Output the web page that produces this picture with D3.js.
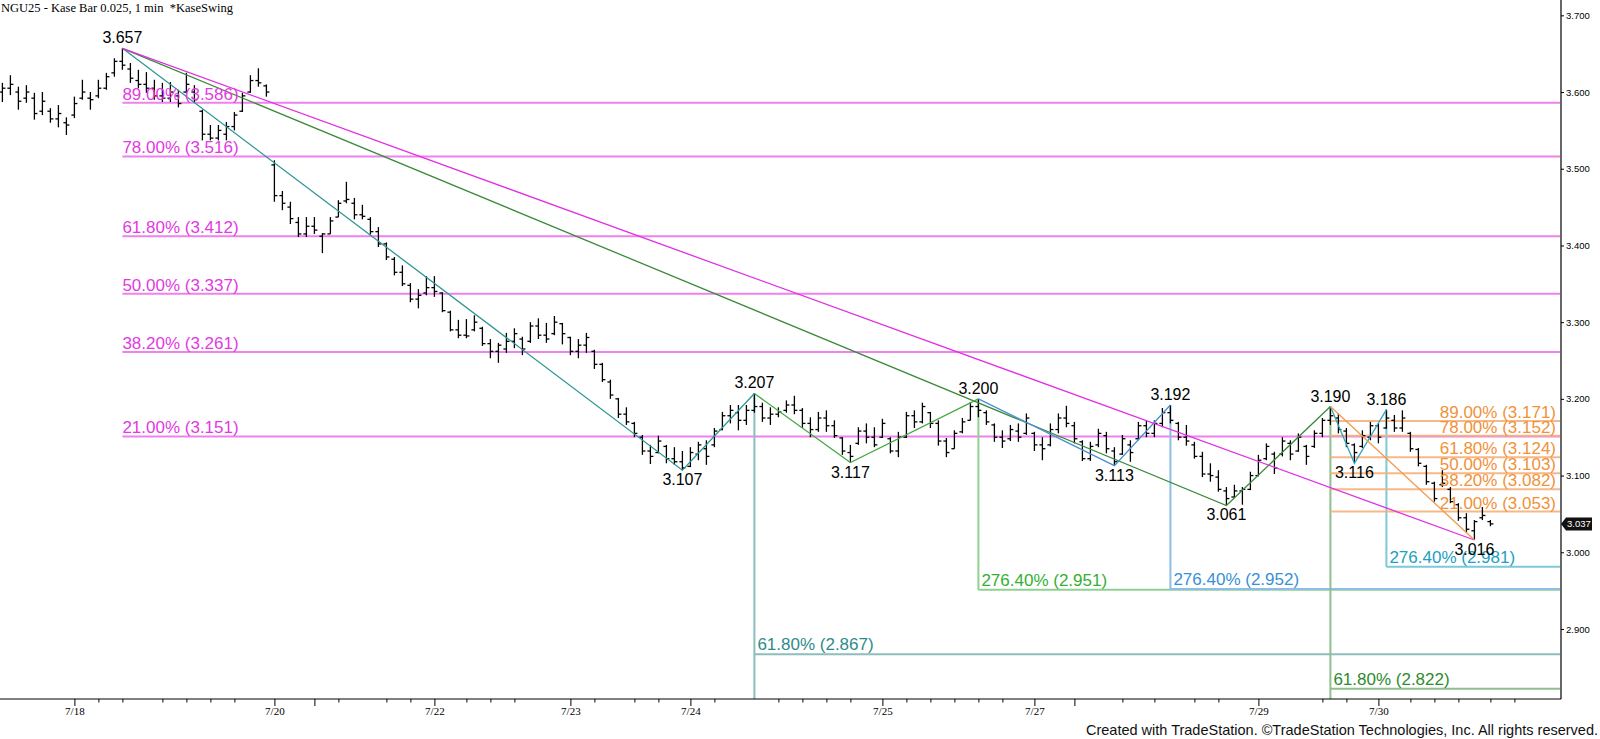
<!DOCTYPE html>
<html>
<head>
<meta charset="utf-8">
<script src="https://cdn.jsdelivr.net/npm/d3@7"></script>
<style>
  body { margin: 0; background: #fff; }
  svg { display: block; }
  .tick text { fill: #000; }
</style>
</head>
<body>
<svg id="chart" width="1600" height="739"></svg>
<script>
// ---- data (bar index = position on the x axis) ----
const highs = [3.612,3.622,3.607,3.609,3.599,3.600,3.579,3.583,3.567,3.594,3.616,3.600,3.616,3.625,3.644,3.657,3.638,3.629,3.626,3.616,
  3.612,3.613,3.603,3.625,3.609,3.577,3.557,3.557,3.561,3.574,3.599,3.622,3.631,3.610,3.511,3.471,3.457,3.437,3.437,3.437,
  3.416,3.437,3.459,3.483,3.462,3.453,3.437,3.424,3.404,3.385,3.374,3.351,3.343,3.360,3.360,3.339,3.315,3.303,3.304,3.309,
  3.294,3.278,3.273,3.286,3.292,3.281,3.300,3.305,3.299,3.308,3.299,3.281,3.278,3.286,3.264,3.247,3.225,3.201,3.189,3.170,
  3.153,3.140,3.152,3.140,3.137,3.132,3.137,3.144,3.146,3.162,3.183,3.192,3.192,3.192,3.207,3.195,3.189,3.189,3.198,3.204,
  3.188,3.176,3.183,3.185,3.172,3.150,3.140,3.163,3.168,3.163,3.174,3.150,3.157,3.183,3.185,3.195,3.183,3.172,3.149,3.159,
  3.175,3.196,3.200,3.185,3.168,3.159,3.166,3.168,3.181,3.157,3.150,3.168,3.181,3.191,3.170,3.146,3.144,3.161,3.157,3.137,
  3.153,3.146,3.170,3.172,3.172,3.188,3.192,3.170,3.166,3.144,3.131,3.116,3.107,3.085,3.088,3.085,3.105,3.127,3.142,3.131,
  3.150,3.146,3.155,3.140,3.159,3.175,3.190,3.181,3.162,3.142,3.159,3.170,3.168,3.186,3.179,3.185,3.157,3.136,3.114,3.092,
  3.107,3.085,3.064,3.051,3.042,3.059,3.042];
const lows = [3.587,3.596,3.577,3.586,3.564,3.570,3.560,3.554,3.544,3.566,3.590,3.577,3.592,3.603,3.620,3.629,3.612,3.605,3.599,3.590,
  3.587,3.587,3.580,3.599,3.586,3.537,3.537,3.537,3.537,3.550,3.574,3.599,3.607,3.594,3.457,3.446,3.428,3.411,3.411,3.415,
  3.390,3.415,3.437,3.455,3.434,3.434,3.414,3.398,3.381,3.361,3.347,3.326,3.318,3.335,3.333,3.313,3.288,3.279,3.279,3.288,
  3.269,3.253,3.247,3.260,3.266,3.257,3.273,3.278,3.273,3.283,3.271,3.257,3.253,3.260,3.239,3.222,3.200,3.175,3.166,3.150,
  3.127,3.115,3.129,3.116,3.114,3.107,3.111,3.120,3.114,3.137,3.159,3.168,3.159,3.166,3.182,3.170,3.166,3.176,3.182,3.180,
  3.162,3.150,3.157,3.157,3.149,3.127,3.117,3.140,3.142,3.137,3.149,3.129,3.124,3.149,3.162,3.168,3.162,3.139,3.124,3.135,
  3.155,3.172,3.176,3.166,3.144,3.136,3.145,3.144,3.153,3.132,3.120,3.138,3.155,3.163,3.142,3.119,3.119,3.137,3.129,3.113,
  3.127,3.118,3.146,3.150,3.150,3.163,3.168,3.146,3.139,3.122,3.098,3.092,3.079,3.061,3.072,3.062,3.081,3.099,3.120,3.102,
  3.125,3.120,3.131,3.114,3.136,3.150,3.166,3.155,3.137,3.116,3.136,3.146,3.142,3.161,3.157,3.157,3.131,3.112,3.088,3.066,
  3.085,3.064,3.041,3.026,3.016,3.042,3.034];
const opens = [3.600,3.605,3.600,3.592,3.592,3.575,3.575,3.565,3.560,3.570,3.592,3.592,3.595,3.605,3.625,3.640,3.630,3.615,3.610,3.605,
  3.595,3.592,3.595,3.600,3.600,3.575,3.545,3.540,3.545,3.555,3.575,3.600,3.615,3.608,3.505,3.465,3.450,3.430,3.415,3.425,
  3.412,3.415,3.437,3.458,3.455,3.440,3.434,3.418,3.402,3.382,3.365,3.348,3.330,3.338,3.345,3.338,3.313,3.290,3.283,3.290,
  3.292,3.272,3.262,3.265,3.275,3.278,3.275,3.295,3.283,3.285,3.298,3.280,3.262,3.270,3.262,3.245,3.222,3.200,3.180,3.168,
  3.150,3.132,3.130,3.138,3.122,3.118,3.112,3.128,3.135,3.140,3.160,3.178,3.182,3.172,3.185,3.190,3.175,3.180,3.185,3.192,
  3.185,3.168,3.160,3.175,3.165,3.149,3.130,3.142,3.158,3.150,3.150,3.148,3.132,3.150,3.178,3.170,3.182,3.168,3.145,3.135,
  3.157,3.172,3.190,3.182,3.166,3.150,3.148,3.158,3.155,3.155,3.140,3.140,3.160,3.175,3.165,3.144,3.122,3.140,3.152,3.132,
  3.128,3.140,3.148,3.165,3.155,3.168,3.182,3.168,3.150,3.140,3.125,3.102,3.098,3.080,3.072,3.080,3.082,3.100,3.122,3.128,
  3.128,3.142,3.132,3.138,3.138,3.155,3.172,3.175,3.158,3.140,3.138,3.150,3.165,3.162,3.172,3.162,3.155,3.134,3.112,3.090,
  3.088,3.082,3.062,3.045,3.028,3.045,3.040];
const closes = [3.605,3.610,3.588,3.600,3.572,3.588,3.565,3.572,3.557,3.585,3.600,3.590,3.605,3.620,3.640,3.635,3.618,3.610,3.605,3.595,
  3.592,3.600,3.585,3.610,3.590,3.545,3.540,3.550,3.555,3.570,3.595,3.615,3.612,3.600,3.465,3.455,3.435,3.415,3.425,3.420,
  3.415,3.432,3.455,3.460,3.440,3.438,3.418,3.402,3.385,3.365,3.350,3.330,3.335,3.345,3.340,3.315,3.290,3.283,3.282,3.300,
  3.272,3.262,3.270,3.275,3.285,3.265,3.295,3.283,3.278,3.300,3.285,3.262,3.270,3.280,3.245,3.225,3.205,3.180,3.170,3.155,
  3.132,3.125,3.145,3.122,3.118,3.110,3.130,3.140,3.125,3.158,3.178,3.185,3.172,3.185,3.190,3.175,3.180,3.183,3.192,3.185,
  3.168,3.160,3.175,3.165,3.152,3.132,3.125,3.158,3.150,3.140,3.168,3.132,3.150,3.178,3.170,3.190,3.168,3.145,3.130,3.155,
  3.170,3.190,3.185,3.170,3.150,3.145,3.160,3.150,3.175,3.140,3.135,3.160,3.175,3.168,3.148,3.122,3.138,3.155,3.135,3.118,
  3.148,3.130,3.165,3.155,3.168,3.182,3.172,3.150,3.145,3.125,3.102,3.100,3.082,3.070,3.080,3.082,3.100,3.120,3.138,3.110,
  3.145,3.128,3.150,3.125,3.155,3.172,3.178,3.160,3.142,3.130,3.152,3.165,3.150,3.175,3.162,3.175,3.135,3.116,3.092,3.070,
  3.090,3.066,3.045,3.030,3.040,3.048,3.037];

// date labels on the time axis
const dateTickIdx = [9, 34, 54, 71, 86, 110, 129, 157, 172];
const dateTickLabels = ['7/18', '7/20', '7/22', '7/23', '7/24', '7/25', '7/27', '7/29', '7/30'];
const longTickIdx = [39, 134];
const minorTickIdx = [12,15,20,23,26,29,42,48,51,58,61,64,74,79,82,89,97,100,103,106,113,116,119,122,125,
  140,144,149,152,165,168,176,179,182,186,189];
const priceTicks = [2.9, 3.0, 3.1, 3.2, 3.3, 3.4, 3.5, 3.6, 3.7];

// KaseSwing pivots
const swingIdx   = [15, 85, 94, 106, 122, 139, 146, 153, 166, 169, 173, 184];
const swingPrice = [3.657, 3.107, 3.207, 3.117, 3.200, 3.113, 3.192, 3.061, 3.190, 3.116, 3.186, 3.016];
const swingIsHigh = [true, false, true, false, true, false, true, false, true, false, true, false];

// retracement of the 3.657 -> 3.016 move
const bigFibPct = ['89.00%', '78.00%', '61.80%', '50.00%', '38.20%', '21.00%'];
const bigFibVal = [3.586, 3.516, 3.412, 3.337, 3.261, 3.151];
// retracement of the 3.190 -> 3.016 move
const smallFibPct = ['89.00%', '78.00%', '61.80%', '50.00%', '38.20%', '21.00%'];
const smallFibVal = [3.171, 3.152, 3.124, 3.103, 3.082, 3.053];

// projection targets
const projIdx   = [94, 122, 146, 166, 173];
const projFrom  = [3.207, 3.200, 3.192, 3.190, 3.186];
const projPct   = ['61.80%', '276.40%', '276.40%', '61.80%', '276.40%'];
const projVal   = [2.867, 2.951, 2.952, 2.822, 2.981];

const lastPrice = 3.037;

// ---- drawing ----
const svg = d3.select('#chart');
const plotRight = 1560, plotBottom = 699;
const fontSans = "'Liberation Sans', Arial, sans-serif";
const fontSerif = "'Liberation Serif', 'Times New Roman', serif";

const x = d3.scaleLinear().domain([-0.3, 194.7]).range([0, plotRight]);
const y = d3.scaleLinear().domain([2.8087, 3.72]).range([plotBottom, 0]);

const bars = highs.map((h, i) => ({i: i, h: h, l: lows[i], o: opens[i], c: closes[i]}));
const line = d3.line().x(d => x(d[0])).y(d => y(d[1]));
const pt = k => [swingIdx[k], swingPrice[k]];

const plot = svg.append('g');

// magenta retracement lines
bigFibVal.forEach((v, k) => {
  plot.append('line')
    .attr('x1', x(15)).attr('x2', plotRight)
    .attr('y1', y(v)).attr('y2', y(v))
    .attr('stroke', '#ee82ee').attr('stroke-width', 2);
});

// projection lines
const projLineColor = ['#8dbdbd', '#8fd18f', '#8dbde6', '#8fbf8f', '#7cc9d8'];
const projTextColor = ['#2e8b8b', '#33b033', '#3a8fd8', '#2e8b2e', '#22a0c0'];
const projToAxis = [true, false, false, true, false];
projIdx.forEach((idx, k) => {
  plot.append('line')
    .attr('x1', x(idx)).attr('x2', x(idx))
    .attr('y1', y(projFrom[k])).attr('y2', projToAxis[k] ? plotBottom : y(projVal[k]))
    .attr('stroke', projLineColor[k]).attr('stroke-width', 2);
  plot.append('line')
    .attr('x1', x(idx)).attr('x2', plotRight)
    .attr('y1', y(projVal[k])).attr('y2', y(projVal[k]))
    .attr('stroke', projLineColor[k]).attr('stroke-width', 2);
});

// orange retracement lines
smallFibVal.forEach(v => {
  plot.append('line')
    .attr('x1', x(166)).attr('x2', plotRight)
    .attr('y1', y(v)).attr('y2', y(v))
    .attr('stroke', '#f5b07a').attr('stroke-width', 2)
    .attr('stroke-opacity', 0.9);
});

// price bars
const barG = plot.append('g').attr('stroke', '#000').attr('stroke-width', 1.3);
barG.selectAll('line.hl').data(bars).join('line')
  .attr('class', 'hl')
  .attr('x1', d => x(d.i)).attr('x2', d => x(d.i))
  .attr('y1', d => y(d.h)).attr('y2', d => y(d.l));
barG.selectAll('line.op').data(bars).join('line')
  .attr('class', 'op')
  .attr('x1', d => x(d.i) - 3).attr('x2', d => x(d.i))
  .attr('y1', d => y(d.o)).attr('y2', d => y(d.o));
barG.selectAll('line.cl').data(bars).join('line')
  .attr('class', 'cl')
  .attr('x1', d => x(d.i)).attr('x2', d => x(d.i) + 3)
  .attr('y1', d => y(d.c)).attr('y2', d => y(d.c));

// swing lines
const swingLines = [
  {pts: [pt(0), pt(1), pt(2)], color: '#2f9696'},
  {pts: [pt(0), pt(7), pt(8)], color: '#3b8a3b'},
  {pts: [pt(2), pt(3), pt(4)], color: '#45aa45'},
  {pts: [pt(4), pt(5), pt(6)], color: '#4a8fd6'},
  {pts: [pt(8), pt(9), pt(10)], color: '#33a5c0'},
  {pts: [pt(0), pt(11)], color: '#e22ee2'},
  {pts: [pt(8), pt(11)], color: '#f09a50'}
];
swingLines.forEach(s => {
  plot.append('path')
    .attr('d', line(s.pts))
    .attr('fill', 'none')
    .attr('stroke', s.color)
    .attr('stroke-width', 1.3);
});

// labels for the magenta levels
bigFibVal.forEach((v, k) => {
  plot.append('text')
    .attr('x', x(15)).attr('y', y(v) - 3)
    .attr('font-family', fontSans).attr('font-size', 17)
    .attr('fill', '#e23ae2')
    .text(bigFibPct[k] + ' (' + v.toFixed(3) + ')');
});

// labels for the orange levels
smallFibVal.forEach((v, k) => {
  plot.append('text')
    .attr('x', plotRight - 4).attr('y', y(v) - 3)
    .attr('text-anchor', 'end')
    .attr('font-family', fontSans).attr('font-size', 17)
    .attr('fill', '#f0923a')
    .text(smallFibPct[k] + ' (' + v.toFixed(3) + ')');
});

// projection labels
projIdx.forEach((idx, k) => {
  plot.append('text')
    .attr('x', x(idx) + 3).attr('y', y(projVal[k]) - 4)
    .attr('font-family', fontSans).attr('font-size', 17)
    .attr('fill', projTextColor[k])
    .text(projPct[k] + ' (' + projVal[k].toFixed(3) + ')');
});

// swing point labels
swingIdx.forEach((idx, k) => {
  plot.append('text')
    .attr('x', x(idx)).attr('y', swingIsHigh[k] ? y(swingPrice[k]) - 5 : y(swingPrice[k]) + 15)
    .attr('text-anchor', 'middle')
    .attr('font-family', fontSans).attr('font-size', 16)
    .attr('fill', '#000')
    .text(swingPrice[k].toFixed(3));
});

// right price axis
const yAxis = svg.append('g')
  .attr('transform', 'translate(' + (plotRight + 1) + ',0)')
  .call(d3.axisRight(y).tickValues(priceTicks).tickFormat(d3.format('.3f')).tickSize(3).tickPadding(2));
yAxis.select('.domain').remove();
yAxis.selectAll('text').attr('font-family', fontSans).attr('font-size', 9.5);
svg.append('line')
  .attr('x1', plotRight + 1).attr('x2', plotRight + 1)
  .attr('y1', 0).attr('y2', plotBottom)
  .attr('stroke', '#000').attr('stroke-width', 1.2);

// last price marker
const ly = y(lastPrice);
svg.append('path')
  .attr('d', 'M' + (plotRight + 1) + ',' + ly + ' l5,-6.5 h26 v13 h-26 z')
  .attr('fill', '#111');
svg.append('text')
  .attr('x', plotRight + 7).attr('y', ly + 3.5)
  .attr('font-family', fontSans).attr('font-size', 9.5)
  .attr('fill', '#fff')
  .text(lastPrice.toFixed(3));

// bottom time axis
const xAxis = svg.append('g')
  .attr('transform', 'translate(0,' + plotBottom + ')')
  .call(d3.axisBottom(x).tickValues(dateTickIdx)
    .tickFormat((d, k) => dateTickLabels[k]).tickSize(7).tickPadding(1));
xAxis.select('.domain').remove();
xAxis.selectAll('text').attr('font-family', fontSerif).attr('font-size', 11);
const minorAxis = svg.append('g')
  .attr('transform', 'translate(0,' + plotBottom + ')')
  .call(d3.axisBottom(x).tickValues(minorTickIdx).tickFormat('').tickSize(3.5));
minorAxis.select('.domain').remove();
const longAxis = svg.append('g')
  .attr('transform', 'translate(0,' + plotBottom + ')')
  .call(d3.axisBottom(x).tickValues(longTickIdx).tickFormat('').tickSize(7));
longAxis.select('.domain').remove();
svg.append('line')
  .attr('x1', 0).attr('x2', plotRight + 1)
  .attr('y1', plotBottom).attr('y2', plotBottom)
  .attr('stroke', '#000').attr('stroke-width', 1.2);

// title and footer
svg.append('text')
  .attr('x', 1).attr('y', 12)
  .attr('font-family', fontSerif).attr('font-size', 12.5)
  .attr('xml:space', 'preserve')
  .text('NGU25 - Kase Bar 0.025, 1 min  *KaseSwing');
svg.append('text')
  .attr('x', 1598).attr('y', 735)
  .attr('text-anchor', 'end')
  .attr('font-family', fontSans).attr('font-size', 14.5)
  .attr('fill', '#111')
  .text('Created with TradeStation. \u00A9TradeStation Technologies, Inc. All rights reserved.');
</script>
</body>
</html>
